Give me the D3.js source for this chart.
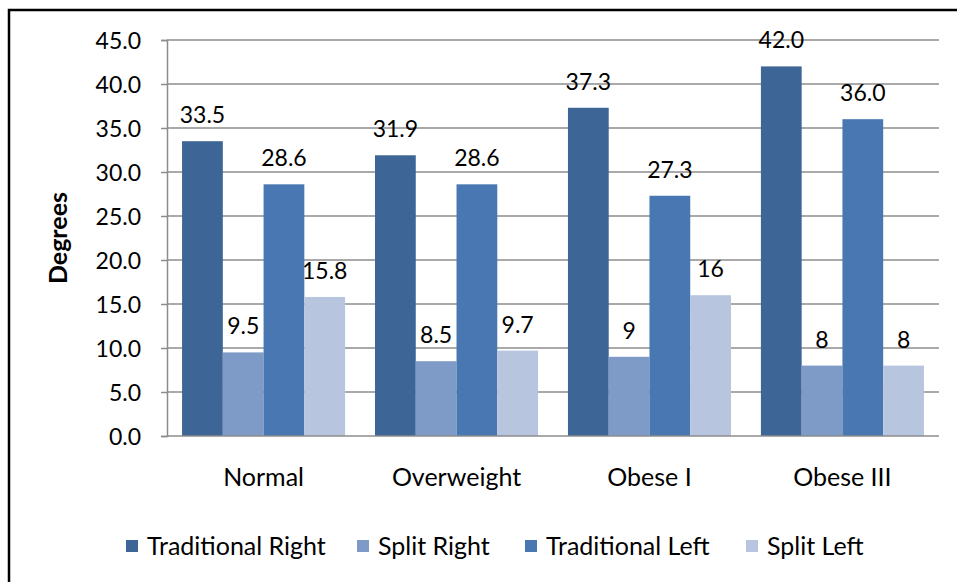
<!DOCTYPE html>
<html>
<head>
<meta charset="utf-8">
<script src="https://cdn.jsdelivr.net/npm/d3@7"></script>
<style>
  body { margin: 0; background: #fff; }
  svg text { font-family: Lato, "Open Sans", sans-serif; fill: #000; }
</style>
</head>
<body>
<svg width="957" height="582"></svg>
<script>
var svg = d3.select("svg"),
  width = +svg.attr("width"),
  height = +svg.attr("height");

// Data
var categories = ["Normal", "Overweight", "Obese I", "Obese III"];
var seriesNames = ["Traditional Right", "Split Right", "Traditional Left", "Split Left"];
var seriesColors = ["#3d6595", "#7e9bc8", "#4877b1", "#b8c5df"];
// labels kept as printed on the chart
var tradRight = ["33.5", "31.9", "37.3", "42.0"];
var splitRight = ["9.5", "8.5", "9", "8"];
var tradLeft = ["28.6", "28.6", "27.3", "36.0"];
var splitLeft = ["15.8", "9.7", "16", "8"];
var yTicks = [0, 5, 10, 15, 20, 25, 30, 35, 40, 45];

var seriesData = [tradRight, splitRight, tradLeft, splitLeft];

var margin = {left: 167, right: 18, top: 40, bottom: 146};

// outer frame
svg.append("rect")
  .attr("x", 9).attr("y", 10)
  .attr("width", width + 20).attr("height", height + 20)
  .attr("fill", "none").attr("stroke", "#000").attr("stroke-width", 2.5);

var x0 = d3.scaleBand()
  .domain(categories)
  .range([margin.left, width - margin.right])
  .paddingInner(0.155).paddingOuter(0.078);

var x1 = d3.scaleBand()
  .domain(seriesNames)
  .range([0, x0.bandwidth()]);

var y = d3.scaleLinear()
  .domain([0, 45])
  .range([height - margin.bottom, margin.top]);

// gridlines
svg.append("g").attr("class", "grid")
  .selectAll("line")
  .data(yTicks.slice(1))
  .enter().append("line")
    .attr("x1", margin.left).attr("x2", width - margin.right)
    .attr("y1", d => y(d)).attr("y2", d => y(d))
    .attr("stroke", "#8c8c8c").attr("stroke-width", 1.5);

// y axis
var yAxis = svg.append("g")
  .attr("transform", "translate(" + margin.left + ",0)")
  .call(d3.axisLeft(y).tickValues(yTicks).tickFormat(d3.format(".1f")).tickSize(6).tickPadding(20));
yAxis.select(".domain").attr("stroke", "#8c8c8c").attr("stroke-width", 1.5);
yAxis.selectAll(".tick line").attr("stroke", "#8c8c8c").attr("stroke-width", 1.5);
yAxis.selectAll("text").attr("font-size", "23px").attr("fill", "#000")
  .attr("font-family", "Lato, sans-serif").attr("dy", "0.36em");

// bars
var groups = svg.append("g").selectAll("g")
  .data(categories)
  .enter().append("g")
    .attr("transform", d => "translate(" + x0(d) + ",0)");

groups.selectAll("rect")
  .data((c, ci) => seriesNames.map((s, si) => ({s: s, si: si, label: seriesData[si][ci], v: +seriesData[si][ci]})))
  .enter().append("rect")
    .attr("x", d => x1(d.s))
    .attr("width", x1.bandwidth())
    .attr("y", d => y(d.v))
    .attr("height", d => y(0) - y(d.v))
    .attr("fill", d => seriesColors[d.si]);

groups.selectAll("text.lbl")
  .data((c, ci) => seriesNames.map((s, si) => ({s: s, si: si, label: seriesData[si][ci], v: +seriesData[si][ci]})))
  .enter().append("text")
    .attr("class", "lbl")
    .attr("x", d => x1(d.s) + x1.bandwidth() / 2)
    .attr("y", d => y(d.v) - 18)
    .attr("text-anchor", "middle")
    .attr("font-size", "23px")
    .text(d => d.label);

// x axis baseline
svg.append("line")
  .attr("x1", margin.left).attr("x2", width - margin.right)
  .attr("y1", y(0)).attr("y2", y(0))
  .attr("stroke", "#8c8c8c").attr("stroke-width", 1.5);

// category labels
svg.append("g").selectAll("text")
  .data(categories)
  .enter().append("text")
    .attr("x", d => x0(d) + x0.bandwidth() / 2)
    .attr("y", y(0) + 50)
    .attr("text-anchor", "middle")
    .attr("font-size", "25px")
    .text(d => d);

// y axis title
svg.append("text")
  .attr("transform", "translate(67," + ((y(0) + y(45)) / 2) + ") rotate(-90)")
  .attr("text-anchor", "middle")
  .attr("font-size", "25px")
  .attr("font-weight", "bold")
  .text("Degrees");

// legend
var legendX = [126, 357, 525, 746];
var legend = svg.append("g").selectAll("g")
  .data(seriesNames)
  .enter().append("g")
    .attr("transform", (d, i) => "translate(" + legendX[i] + ",540)");
legend.append("rect")
  .attr("width", 12).attr("height", 12)
  .attr("fill", (d, i) => seriesColors[i]);
legend.append("text")
  .attr("x", 21).attr("y", 14.5)
  .attr("font-size", "25px")
  .text(d => d);
</script>
</body>
</html>
